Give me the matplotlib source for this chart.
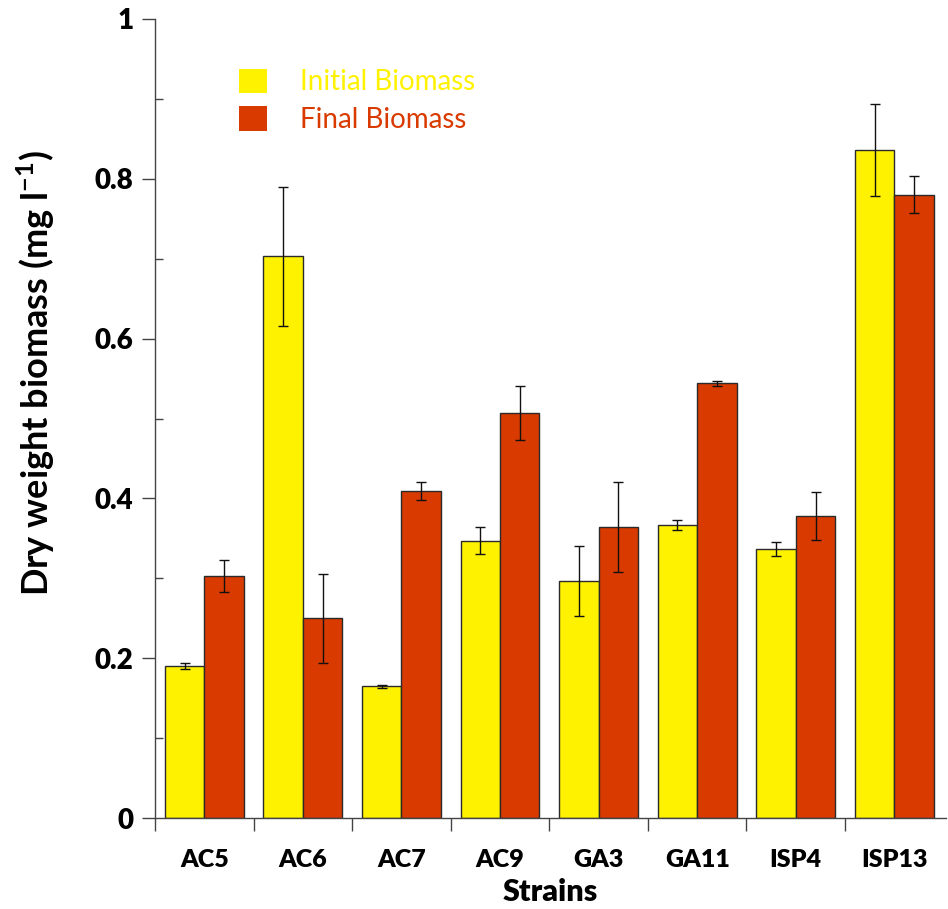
import numpy as np
import matplotlib
matplotlib.use("Agg")
from matplotlib import pyplot as plt
from matplotlib.ticker import MultipleLocator, FixedLocator

strains = ["AC5", "AC6", "AC7", "AC9", "GA3", "GA11", "ISP4", "ISP13"]
initial = [0.190, 0.703, 0.165, 0.347, 0.297, 0.367, 0.337, 0.836]
initial_err = [0.004, 0.087, 0.002, 0.017, 0.044, 0.006, 0.009, 0.057]
final = [0.303, 0.250, 0.409, 0.507, 0.364, 0.544, 0.378, 0.780]
final_err = [0.020, 0.056, 0.011, 0.034, 0.056, 0.003, 0.030, 0.023]

yellow = "#FFF200"
red = "#D93A00"

plt.rcParams["font.family"] = ["Lato", "DejaVu Sans"]
plt.rcParams["mathtext.fontset"] = "custom"
plt.rcParams["mathtext.rm"] = "Lato"
plt.rcParams["mathtext.bf"] = "Lato:bold"

fig = plt.figure(figsize=(9.48, 9.09), dpi=100)
ax = fig.add_axes([0.1635, 0.1001, 0.834, 0.879])

x = np.arange(len(strains))
w = 0.4
ax.bar(x - w / 2, initial, w, color=yellow, edgecolor="#2a2a2a", linewidth=1.0,
       label="Initial Biomass", zorder=2)
ax.bar(x + w / 2, final, w, color=red, edgecolor="#2a2a2a", linewidth=1.0,
       label="Final Biomass", zorder=2)
ax.errorbar(x - w / 2, initial, yerr=initial_err, fmt="none", ecolor="#111111",
            elinewidth=1.0, capsize=3.6, capthick=1.0, zorder=3)
ax.errorbar(x + w / 2, final, yerr=final_err, fmt="none", ecolor="#111111",
            elinewidth=1.0, capsize=3.6, capthick=1.0, zorder=3)

ax.set_xlim(-0.5, 7.52)
ax.set_ylim(0, 1)

# y axis: labelled ticks outward, half steps inward
ax.yaxis.set_minor_locator(MultipleLocator(0.1))
ax.set_yticks([0, 0.2, 0.4, 0.6, 0.8, 1.0])
ax.set_yticklabels(["0", "0.2", "0.4", "0.6", "0.8", "1"], fontsize=20, fontweight="heavy")
ax.tick_params(axis="y", which="major", direction="out", length=9.5, width=1.0,
               color="#444444", pad=6)
ax.tick_params(axis="y", which="minor", direction="in", length=5.5, width=1.0,
               color="#444444")

# x axis: names under groups, ticks at group boundaries
ax.set_xticks(x)
ax.set_xticklabels(strains, fontsize=18, fontweight="heavy")
ax.xaxis.set_minor_locator(FixedLocator(np.arange(-0.5, 7.0, 1.0)))
ax.tick_params(axis="x", which="major", length=0, pad=22)
ax.tick_params(axis="x", which="minor", direction="out", length=9.5, width=1.0,
               color="#444444")

for side in ("top", "right"):
    ax.spines[side].set_visible(False)
for side in ("left", "bottom"):
    ax.spines[side].set_color("#444444")
    ax.spines[side].set_linewidth(1.0)

ax.set_xlabel("Strains", fontsize=22, fontweight="heavy", labelpad=5)
ax.set_ylabel("Dry weight biomass (mg l$^{\\mathbf{-1}}$)", fontsize=26,
              fontweight="bold")
ax.yaxis.set_label_coords(-0.124, 0.557)

leg = ax.legend(loc="upper left", bbox_to_anchor=(0.106, 0.938), frameon=False,
                fontsize=20, handlelength=1.0, handleheight=1.0,
                handletextpad=1.2, labelspacing=0.37, borderpad=0,
                borderaxespad=0, labelcolor=[yellow, red])
for h in leg.legend_handles:
    h.set_edgecolor("none")

fig.savefig("out.png", dpi=100)
